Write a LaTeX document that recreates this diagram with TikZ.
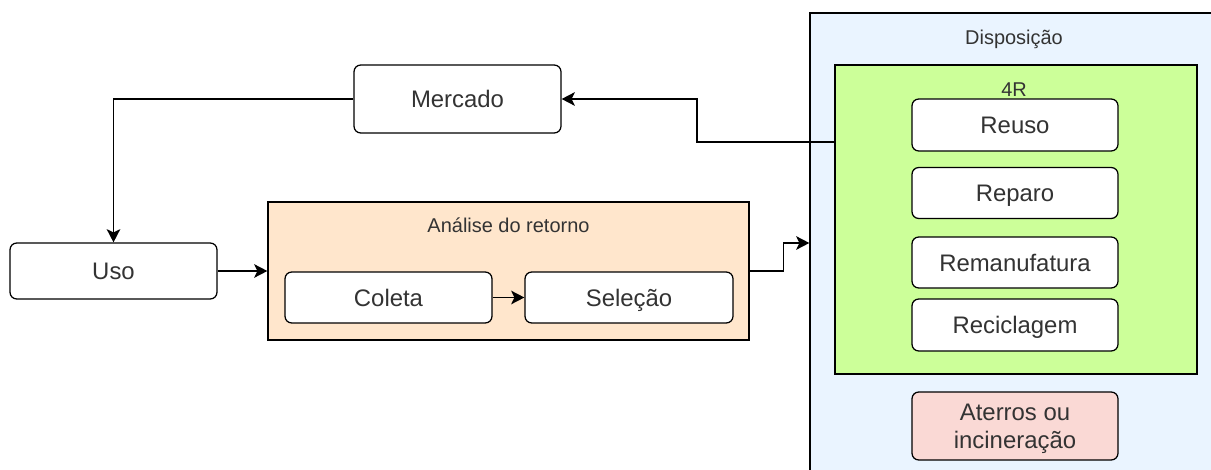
\documentclass[tikz,border=0pt]{standalone}
\usepackage{fontspec}
\setmainfont{Liberation Sans}
\usepackage{tikz}
\usetikzlibrary{arrows.meta, calc, positioning}

\definecolor{dispfill}{HTML}{EAF4FF}
\definecolor{rfill}{HTML}{CCFF99}
\definecolor{anfill}{HTML}{FFE6CC}
\definecolor{atfill}{HTML}{FAD9D5}
\definecolor{txt}{HTML}{333333}

\begin{document}
\begin{tikzpicture}[
    line width=0.9pt,
    etapa/.style={draw, rounded corners=0.17cm, fill=white, inner sep=0pt,
        text=txt, font=\fontsize{17}{20}\selectfont, align=center,
        text height=0.43cm, text depth=0cm,
        minimum width=5.175cm, minimum height=1.3cm},
    grupo/.style={draw, inner sep=0pt},
    titulo/.style={text=txt, font=\fontsize{14.2}{17}\selectfont, inner sep=0pt,
        text height=0.36cm, text depth=0cm},
    seta/.style={-{Stealth[length=0.33cm, width=0.34cm, inset=0.08cm]}}
    ]
    \clip (0,0) rectangle (30.275,-11.75);

    \node (merc) at (11.4375,-2.475) [etapa, minimum height=1.7cm] {Mercado};
    \node (uso) at (2.8375,-6.775) [etapa, minimum height=1.4cm] {Uso};

    \node (analise) at (12.7125,-6.775) [grupo, fill=anfill, minimum width=12.025cm, minimum height=3.45cm] {};
    \node (tanalise) at (12.7125,-5.64) [titulo] {Análise do retorno};
    \node (coleta) at (9.7125,-7.4375) [etapa, minimum height=1.275cm] {Coleta};
    \node (selecao) at (15.725,-7.4375) [etapa, minimum width=5.2cm, minimum height=1.275cm] {Seleção};

    \node (dispos) at (25.65,-6.075) [grupo, fill=dispfill, minimum width=10.8cm, minimum height=11.5cm] {};
    \node (tdispos) at (25.35,-0.925) [titulo] {Disposição};
    \node (r4) at (25.4,-5.4875) [grupo, fill=rfill, minimum width=9.05cm, minimum height=7.725cm] {};
    \node (tr4) at (25.35,-2.225) [titulo] {4R};
    \node (reuso) at (25.375,-3.125) [etapa, minimum width=5.15cm] {Reuso};
    \node (reparo) at (25.375,-4.825) [etapa, minimum width=5.15cm, minimum height=1.275cm] {Reparo};
    \node (reman) at (25.375,-6.5625) [etapa, minimum width=5.15cm, minimum height=1.275cm] {Remanufatura};
    \node (recic) at (25.375,-8.125) [etapa, minimum width=5.15cm] {Reciclagem};
    \node (aterro) at (25.375,-10.65) [etapa, fill=atfill, minimum width=5.15cm, minimum height=1.7cm,
        text height=1.133cm] {Aterros ou\\incineração};

    \draw[seta] (merc.west) -| (uso.north);
    \draw[seta] (uso.east) -- (analise.west);
    \draw[seta] (coleta.east) -- (selecao.west);
    \draw[seta] (analise.east) -- ++(0.85,0) |- (dispos.west);
    \draw[seta] ($(r4.north west)!0.25!(r4.south west)$) -| (17.425,-2.475) -- (merc.east);

\end{tikzpicture}
\end{document}
